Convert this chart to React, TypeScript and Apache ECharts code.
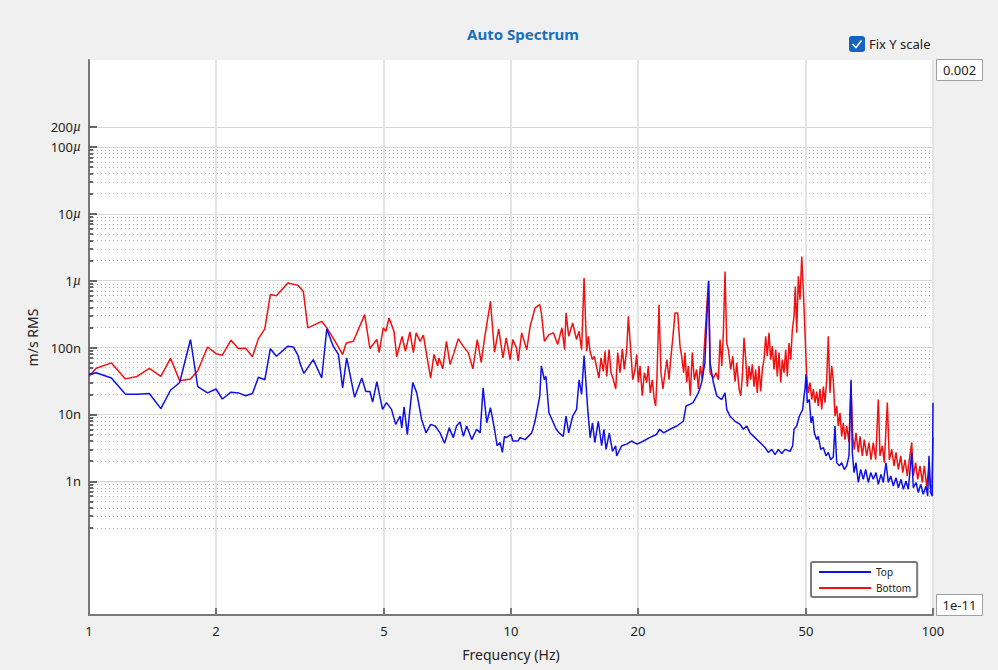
import React, { useEffect, useRef } from "react";
import * as echarts from "echarts";

// Frequencies in Hz, amplitudes in nm/s RMS
const bottomFreq = [
  1.0, 1.04, 1.13, 1.22, 1.3, 1.39, 1.48, 1.56, 1.64, 1.74, 1.81, 1.91, 2.0, 2.07, 2.17, 2.26, 2.35, 2.44, 2.52, 2.61,
  2.69, 2.78, 2.96, 3.13, 3.22, 3.3, 3.56, 3.66, 3.83, 3.99, 4.07, 4.23, 4.5, 4.63, 4.81, 4.87, 4.98, 5.05, 5.14, 5.28,
  5.36, 5.52, 5.62, 5.76, 5.87, 5.96, 6.09, 6.2, 6.32, 6.45, 6.57, 6.7, 6.75, 6.89, 7.03, 7.17, 7.33, 7.5, 7.7, 7.92,
  8.12, 8.32, 8.5, 8.66, 8.94, 9.14, 9.35, 9.57, 9.74, 9.95, 10.1, 10.3, 10.4, 10.6, 10.9, 11.1, 11.4, 11.7, 11.8, 12.0,
  12.3, 12.6, 12.9, 13.2, 13.4, 13.5, 13.7, 14.0, 14.3, 14.5, 14.7, 14.9,
  15.11, 15.25, 15.39, 15.59, 15.76, 15.96, 16.16, 16.34, 16.55, 16.7, 16.86, 17.07, 17.26, 17.48, 17.71, 17.9, 18.13, 18.36, 18.56, 18.8,
  18.97, 19.21, 19.43, 19.67, 19.86, 20.03, 20.22, 20.47, 20.7, 20.97, 21.15, 21.38, 21.62, 21.85, 22.02, 22.18, 22.42, 22.67, 22.91, 23.17,
  23.42, 23.68, 23.94, 24.2, 24.47, 24.83, 25.15, 25.38, 25.66, 25.84, 26.08, 26.31, 26.6, 26.89, 27.19, 27.54, 27.79, 28.09, 28.4, 28.82,
  29.14, 29.4, 29.63, 30.17, 30.61, 31.0, 31.29, 31.58, 31.86, 32.15, 32.45, 32.74, 33.17, 33.53, 33.96, 34.27, 34.71, 35.03, 35.34, 35.66,
  36.0, 36.31, 36.64, 36.98, 37.31, 37.65, 38.0, 38.34, 38.7, 39.06, 39.41, 39.77, 40.14, 40.49, 40.87, 41.25, 41.61, 42.0, 42.4, 42.76,
  43.17, 43.57, 43.95, 44.36, 44.77, 45.17, 45.59, 46.01, 46.42, 46.85, 47.18, 47.54, 47.96, 48.4, 48.86, 49.28, 49.74, 50.2, 50.65, 51.12,
  51.6, 52.05, 52.53, 53.02, 53.48, 53.98, 54.49, 54.97, 55.47, 55.99, 56.48, 57.0, 57.54, 58.04, 58.58, 59.13, 59.65, 60.2, 60.76, 61.3,
  61.87, 62.45, 63.23, 63.93, 64.52, 65.09, 65.69, 66.53, 67.14, 68.0, 68.74, 69.65, 70.52, 71.3, 72.2, 73.15, 74.2, 74.89, 75.84, 76.67,
  77.94, 78.79, 79.84, 80.85, 81.73, 82.77, 83.86, 84.78, 85.84, 86.92, 87.87, 89.03, 89.81, 90.99, 91.98, 93.16, 94.34, 95.37, 96.63, 97.68,
  98.74, 99.5, 100
];
const bottomNano = [
  37, 49, 59, 34, 37, 49, 37, 69, 32, 34, 45, 102, 81, 77, 129, 97, 98, 73, 136, 190,
  620, 597, 925, 851, 692, 197, 247, 197, 124, 79, 117, 124, 311, 97, 132, 84, 197, 175, 277, 175,
  73, 147, 88, 171, 84, 166, 124, 153, 74, 35, 79, 53, 70, 48, 124, 56, 84, 136, 105, 84,
  48, 132, 60, 140, 491, 85, 190, 70, 140, 66, 132, 99, 63, 166, 93, 208, 392, 438, 330, 124,
  156, 166, 111, 197, 93, 330, 147, 233, 132, 175, 93, 1096,
  88, 147, 88, 66, 74, 50, 35, 70, 44, 88, 37, 93, 42, 33, 24, 84, 42, 96, 47, 93,
  293, 93, 33, 47, 79, 30, 53, 19, 42, 30, 53, 21, 33, 16.7, 13.4, 37, 438, 42, 24, 42,
  66, 33, 74, 147, 330, 330, 105, 74, 42, 84, 30, 53, 19, 84, 33, 47, 24, 53, 33, 147,
  466, 990, 42, 35, 42, 33, 132, 53, 166, 1377, 117, 93, 47, 74, 31, 59, 24, 19, 37, 140,
  66, 26, 53, 33, 56, 26, 47, 21, 53, 22, 47, 66, 147, 74, 166, 66, 105, 47, 93, 37,
  84, 30, 66, 42, 93, 37, 117, 66, 186, 293, 820, 166, 1160, 520, 2300, 734, 166, 37, 21, 30,
  16.7, 24, 15, 22, 13.4, 24, 11.9, 26, 15, 33, 147, 21, 53, 33, 9.4, 13.4, 6.7, 10.6, 4.7, 7.5,
  4.2, 6.7, 3.8, 30, 4.7, 3.0, 5.3, 2.7, 4.7, 2.4, 4.2, 2.4, 3.8, 2.1, 3.8, 2.1, 16.7, 2.4, 3.4, 1.9,
  15, 2.1, 3.0, 1.7, 2.7, 1.5, 2.4, 1.35, 2.1, 1.2, 2.1, 3.8, 1.2, 1.9, 1.07, 1.7, 0.96, 1.7, 0.85, 1.5,
  0.76, 0.9, 4.5
];

const topFreq = [
  1.0, 1.04, 1.13, 1.22, 1.3, 1.39, 1.48, 1.56, 1.64, 1.74, 1.81, 1.91, 2.0, 2.07, 2.17, 2.26, 2.35, 2.44, 2.52, 2.61,
  2.69, 2.78, 2.96, 3.05, 3.13, 3.16, 3.23, 3.4, 3.56, 3.66, 3.79, 3.9, 3.99, 4.08, 4.26, 4.43, 4.53, 4.63, 4.7, 4.81,
  4.96, 5.07, 5.21, 5.33, 5.46, 5.51, 5.58, 5.68, 5.85, 5.98, 6.14, 6.29, 6.45, 6.61, 6.79, 6.96, 7.14, 7.3, 7.43, 7.57,
  7.71, 7.85, 8.07, 8.29, 8.45, 8.59, 8.76, 8.94, 9.14, 9.27, 9.42, 9.54, 9.65, 9.74, 10.0, 10.1, 10.4, 10.5, 10.8, 11.2,
  11.4, 11.7, 11.8, 12.0, 12.1, 12.3, 12.6, 12.8, 13.0, 13.3, 13.5, 13.7, 14.0, 14.3, 14.5, 14.7, 14.9, 15.2, 15.4, 15.6,
  15.8, 16.1, 16.4, 16.6, 16.8, 17.1, 17.4, 17.7, 17.8, 18.3, 18.8, 19.3, 19.9, 20.6, 21.3, 22.1, 22.5, 23.0, 23.8, 24.7,
  25.6, 26.0, 26.5, 27.0, 27.8, 28.3, 28.8, 29.1, 29.4, 29.63, 30.17, 30.73, 31.58, 32.15, 32.45, 33.04, 33.96, 34.9, 35.53, 36.19,
  36.85, 37.86, 38.91, 39.99, 40.71, 41.48, 42.23, 43.0, 43.81, 44.61, 45.84, 46.51, 46.85, 47.54, 48.22, 49.12, 49.47, 49.74, 50.02, 50.37,
  50.93, 51.4, 51.88, 52.33, 53.02, 53.48, 54.19, 54.97, 55.77, 56.48, 57.22, 58.04, 58.58, 59.13, 59.98, 60.76, 61.64, 62.45, 63.23, 63.93,
  64.39, 64.99, 65.69, 66.53, 67.41, 68.36, 69.26, 70.26, 71.19, 72.2, 73.27, 74.2, 75.3, 76.25, 77.38, 78.37, 79.4, 80.54, 81.73, 82.77,
  84.0, 85.06, 86.3, 87.4, 89.03, 89.81, 91.14, 92.3, 93.5, 94.84, 96.25, 97.14, 97.84, 98.74, 99.61, 100
];
const topNano = [
  40, 42, 35, 20, 20, 20.6, 12.2, 23, 30, 132, 26, 21, 24, 17, 21.5, 21, 19, 20.6, 36, 33,
  96, 74, 105, 102, 76, 59, 41, 66, 35, 190, 105, 79, 25, 70, 18, 35, 22, 22, 15.3, 31,
  11.9, 15, 11.9, 7.1, 9.4, 6.3, 13, 5, 30, 21, 8.4, 5.3, 7.1, 6.7, 5.3, 3.7, 6.3, 4.5, 6.7, 7.7,
  4.7, 6.7, 4.2, 6, 5.3, 25, 7.5, 12.6, 6, 3.4, 3.8, 2.7, 4.7, 4.5, 5, 4.0, 4, 4.5, 4.2, 5.3,
  7.9, 18.8, 53, 33, 37, 10.6, 7.5, 6, 5.3, 4.7, 9.4, 5.3, 9.4, 11.9, 33, 20, 76, 12, 4.5, 7.5,
  3.8, 7.9, 3.4, 6, 3, 5.3, 2.8, 3.4, 2.4, 3.4, 3.6, 4, 3.6, 4, 4.5, 5, 6, 5.3, 6, 6.7,
  7.9, 13.4, 14.1, 15, 21, 30, 59, 262, 1000, 59, 30, 19, 16.7, 21, 11.9, 9.4, 7.9, 7.1, 6, 6.7,
  5.3, 4.5, 3.8, 3.2, 2.7, 3, 2.5, 3, 2.6, 3, 2.8, 3.4, 6, 6.7, 9.4, 11.9, 18.8, 24, 40, 15,
  16.7, 7.5, 9.4, 5.3, 4.2, 4.7, 3, 3.2, 2.4, 2.7, 2.1, 2.3, 6.7, 1.9, 1.7, 1.9, 1.5, 1.7, 2.4, 33,
  2.7, 1.35, 1.9, 0.96, 1.5, 1.07, 1.5, 0.96, 1.35, 1.07, 1.35, 0.9, 1.27, 0.96, 1.9, 0.96, 1.2, 0.85, 1.13, 0.8,
  1.07, 0.76, 1.0, 0.76, 2.7, 0.8, 0.96, 0.68, 0.9, 0.64, 0.85, 0.6, 2.4, 0.68, 0.6, 15
];

const xTickValues = [1, 2, 5, 10, 20, 50, 100];
const yMajorValues = [1e-9, 1e-8, 1e-7, 1e-6, 1e-5, 1e-4, 2e-4];
const yMajorLabels = ["1n", "10n", "100n", "1µ", "10µ", "100µ", "200µ"];
const yMinorMantissas = [2, 3, 4, 5, 6, 7, 8, 9];
const yMinorDecades = [-10, -9, -8, -7, -6, -5];
const yMin = 1e-11;
const yMax = 2e-3;

const lg = (v: number) => Math.log10(v);
const toPoints = (f: number[], v: number[]) => f.map((x, i) => [lg(x), lg(v[i] * 1e-9)]);

const yMinorValues: number[] = [];
yMinorDecades.forEach((d) => yMinorMantissas.forEach((m) => yMinorValues.push(m * Math.pow(10, d))));

const FONT = "Noto Sans";

function fmtX(v: number) {
  return String(Math.round(Math.pow(10, v)));
}
function fmtY(v: number) {
  const i = yMajorValues.findIndex((t) => Math.abs(lg(t) - v) < 1e-6);
  if (i < 0) return "";
  return yMajorLabels[i].replace("µ", "{mu|µ}");
}

export default function App() {
  const ref = useRef<HTMLDivElement>(null);
  useEffect(() => {
    document.body.style.margin = "0";
    document.body.style.background = "#f0f0f0";
    const chart = echarts.init(ref.current as HTMLDivElement, null, { renderer: "svg" });
    const option: any = {
      animation: false,
      backgroundColor: "#f0f0f0",
      textStyle: { fontFamily: FONT },
      title: {
        text: "Auto Spectrum",
        left: 518,
        textAlign: "center",
        top: 21,
        textStyle: { fontSize: 15, fontWeight: "bold", color: "#1672c0", fontFamily: FONT },
      },
      grid: {
        left: 89,
        top: 60,
        right: 65,
        bottom: 55,
        show: true,
        backgroundColor: "#ffffff",
        borderWidth: 0,
      },
      legend: {
        data: ["Top", "Bottom"],
        orient: "vertical",
        left: 811,
        top: 562,
        icon: "rect",
        itemWidth: 52,
        itemHeight: 2,
        itemGap: 6,
        padding: [5, 6, 4, 8],
        backgroundColor: "#ffffff",
        borderColor: "#7a7a7a",
        borderWidth: 2,
        borderRadius: 2,
        textStyle: { fontSize: 10, color: "#222", fontFamily: FONT },
      },
      xAxis: {
        type: "value",
        min: 0,
        max: 2,
        name: "Frequency (Hz)",
        nameLocation: "middle",
        nameGap: 32,
        nameTextStyle: { fontSize: 14, color: "#222", fontFamily: FONT },
        axisLine: { show: true, lineStyle: { color: "#777", width: 2 } },
        axisTick: {
          show: true,
          inside: true,
          length: 7,
          customValues: xTickValues.map(lg),
          lineStyle: { color: "#777", width: 2 },
        },
        axisLabel: {
          customValues: xTickValues.map(lg),
          formatter: fmtX,
          fontSize: 13,
          color: "#222",
          margin: 9,
        },
        splitLine: { show: true, lineStyle: { color: "#e4e4e4", width: 2 } },
      },
      yAxis: [
        {
          type: "value",
          min: lg(yMin),
          max: lg(yMax),
          name: "m/s RMS",
          nameLocation: "middle",
          nameGap: 46,
          nameTextStyle: { fontSize: 14, color: "#222", fontFamily: FONT },
          axisLine: { show: true, lineStyle: { color: "#777", width: 2 } },
          axisTick: {
            show: true,
            inside: true,
            length: 8,
            customValues: yMajorValues.map(lg),
            lineStyle: { color: "#666", width: 2 },
          },
          axisLabel: {
            customValues: yMajorValues.map(lg),
            formatter: fmtY,
            fontSize: 13,
            color: "#222",
            margin: 8,
            rich: {
              mu: { fontStyle: "italic", fontFamily: "Liberation Serif", fontSize: 14, color: "#222" },
            },
          },
          splitLine: { show: true, lineStyle: { color: "#d6d6d6", width: 1 } },
        },
        {
          type: "value",
          position: "left",
          min: lg(yMin),
          max: lg(yMax),
          axisLine: { show: false },
          axisLabel: { show: false },
          axisTick: {
            show: true,
            inside: true,
            length: 4,
            customValues: yMinorValues.map(lg),
            lineStyle: { color: "#666", width: 2 },
          },
          splitLine: { show: true, lineStyle: { color: "#b8b8b8", width: 1, type: [1, 3] } },
        },
      ],
      series: [
        {
          name: "Bottom",
          type: "line",
          data: toPoints(bottomFreq, bottomNano),
          symbol: "none",
          showSymbol: false,
          lineStyle: { color: "#f21010", width: 1.5 },
          itemStyle: { color: "#f21010" },
          z: 2,
        },
        {
          name: "Top",
          type: "line",
          data: toPoints(topFreq, topNano),
          symbol: "none",
          showSymbol: false,
          lineStyle: { color: "#1010e8", width: 1.5 },
          itemStyle: { color: "#1010e8" },
          z: 3,
        },
      ],
      graphic: [
        {
          type: "rect",
          shape: { x: 849, y: 36, width: 16, height: 16, r: 3 },
          style: { fill: "#1565c0" },
        },
        {
          type: "polyline",
          shape: { points: [[852.5, 44], [856, 47.5], [861.5, 40.5]] },
          style: { stroke: "#ffffff", lineWidth: 1.5, fill: null },
        },
        {
          type: "text",
          x: 869,
          y: 44,
          style: {
            text: "Fix Y scale",
            fontSize: 13,
            fontFamily: FONT,
            fill: "#222",
            textVerticalAlign: "middle",
            verticalAlign: "middle",
          },
        },
        {
          type: "rect",
          shape: { x: 936.5, y: 59.5, width: 46, height: 21 },
          style: { fill: "#ffffff", stroke: "#a0a0a0", lineWidth: 1 },
        },
        {
          type: "text",
          x: 959.5,
          y: 70,
          style: {
            text: "0.002",
            fontSize: 13,
            fontFamily: FONT,
            fill: "#222",
            textAlign: "center",
            align: "center",
            textVerticalAlign: "middle",
            verticalAlign: "middle",
          },
        },
        {
          type: "rect",
          shape: { x: 936.5, y: 594.5, width: 46, height: 21 },
          style: { fill: "#ffffff", stroke: "#a0a0a0", lineWidth: 1 },
        },
        {
          type: "text",
          x: 959.5,
          y: 605,
          style: {
            text: "1e-11",
            fontSize: 13,
            fontFamily: FONT,
            fill: "#222",
            textAlign: "center",
            align: "center",
            textVerticalAlign: "middle",
            verticalAlign: "middle",
          },
        },
      ],
    };
    chart.setOption(option);
    return () => chart.dispose();
  }, []);
  return <div ref={ref} style={{ width: 998, height: 670 }} />;
}
